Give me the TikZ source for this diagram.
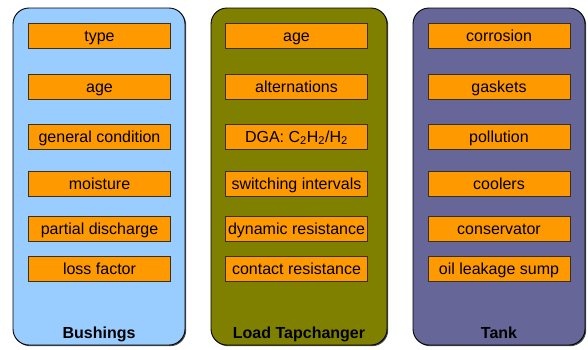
\documentclass[tikz,border=0pt]{standalone}
\usepackage{fontspec}
\setmainfont{Liberation Sans}
\usetikzlibrary{positioning,shadows}
\definecolor{bushBlue}{HTML}{99CCFF}
\definecolor{tapOlive}{HTML}{808000}
\definecolor{tankPurple}{HTML}{666699}
\definecolor{itemOrange}{HTML}{FF9900}
\definecolor{edgeDark}{HTML}{3A3020}

\begin{document}
\begin{tikzpicture}[x=1pt,y=-1pt,
  group/.style={draw=black,line width=.9pt,rounded corners=16pt,minimum width=172pt,minimum height=337pt,inner sep=0pt,
    drop shadow={shadow xshift=1.2pt,shadow yshift=-1.2pt,fill=black!70,opacity=1}},
  item/.style={draw=edgeDark,line width=.8pt,fill=itemOrange,minimum width=142pt,minimum height=25pt,inner sep=0pt,
    text height=13pt,text depth=2pt,font=\fontsize{16}{18}\selectfont},
  title/.style={text height=11.5pt,text depth=3.5pt,font=\fontsize{16}{18}\selectfont\bfseries}]
  \useasboundingbox (0,0) rectangle (588,349);
  % columns
  \node[group,fill=bushBlue] (bush) at (99,176.5) {};
  \node[group,fill=tapOlive,minimum width=176pt] (tap) at (299,176.5) {};
  \node[group,fill=tankPurple] (tank) at (499,176.5) {};
  \node[title] (bushT) at (99,334) {Bushings};
  \node[title] (tapT) at (299,334) {Load Tapchanger};
  \node[title] (tankT) at (499,334) {Tank};
  % bushings
  \node[item] (b1) at (99.5,36) {type};
  \node[item] (b2) at (99.5,87) {age};
  \node[item] (b3) at (99.5,136.5) {general condition};
  \node[item] (b4) at (99.5,183.5) {moisture};
  \node[item] (b5) at (99.5,229) {partial discharge};
  \node[item] (b6) at (99.5,268.5) {loss factor};
  % load tapchanger
  \node[item] (t1) at (296.5,36) {age};
  \node[item] (t2) at (296.5,87) {alternations};
  \node[item] (t3) at (296.5,136.5) {DGA: C\textsubscript{2}H\textsubscript{2}/H\textsubscript{2}};
  \node[item] (t4) at (296.5,183.5) {switching intervals};
  \node[item] (t5) at (296.5,229) {dynamic resistance};
  \node[item] (t6) at (296.5,268.5) {contact resistance};
  % tank
  \node[item] (k1) at (499,36) {corrosion};
  \node[item] (k2) at (499,87) {gaskets};
  \node[item] (k3) at (499,136.5) {pollution};
  \node[item] (k4) at (499,183.5) {coolers};
  \node[item] (k5) at (499,229) {conservator};
  \node[item] (k6) at (499,268.5) {oil leakage sump};
\end{tikzpicture}
\end{document}
